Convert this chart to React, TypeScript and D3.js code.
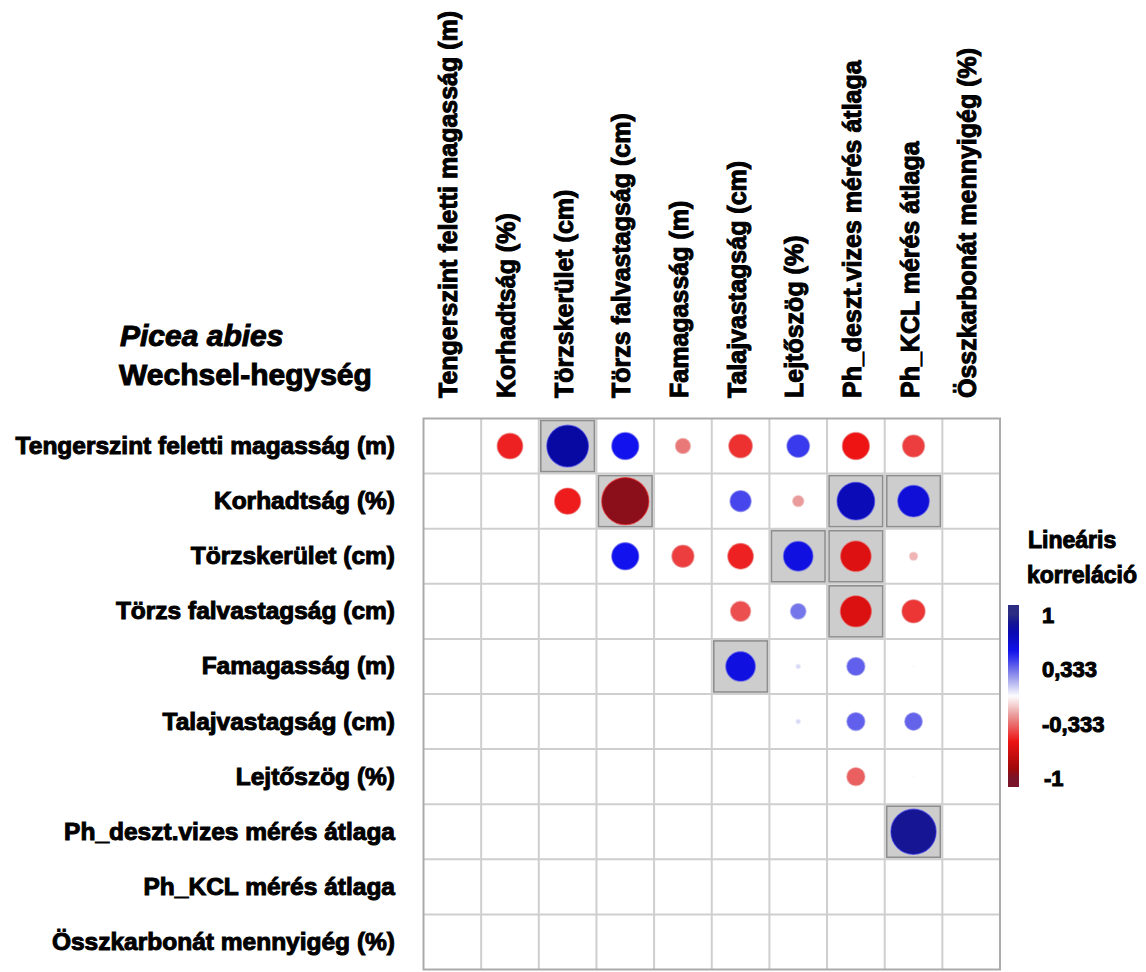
import React from "react";
import * as d3 from "d3";

// Variables of the correlation matrix (same order on both axes)
const variables = [
  "Tengerszint feletti magasság (m)",
  "Korhadtság (%)",
  "Törzskerület (cm)",
  "Törzs falvastagság (cm)",
  "Famagasság (m)",
  "Talajvastagság (cm)",
  "Lejtőszög (%)",
  "Ph_deszt.vizes mérés átlaga",
  "Ph_KCL mérés átlaga",
  "Összkarbonát mennyigég (%)",
];

// Upper-triangle Pearson correlations (null = not shown)
const corrTengerszint = [null, -0.52, 0.84, 0.55, -0.31, -0.48, 0.46, -0.55, -0.45, null];
const corrKorhadtsag = [null, null, -0.53, -0.95, null, 0.43, -0.23, 0.76, 0.64, null];
const corrTorzskerulet = [null, null, null, 0.55, -0.45, -0.52, 0.6, -0.62, -0.17, null];
const corrFalvastagsag = [null, null, null, null, null, -0.41, 0.32, -0.63, -0.47, null];
const corrFamagassag = [null, null, null, null, null, 0.6, 0.09, 0.37, 0.03, null];
const corrTalajvastagsag = [null, null, null, null, null, null, 0.09, 0.37, 0.36, null];
const corrLejtoszog = [null, null, null, null, null, null, null, -0.37, 0.03, null];
const corrPhDeszt = [null, null, null, null, null, null, null, null, 0.91, null];
const corrPhKCL = [null, null, null, null, null, null, null, null, null, null];
const corrOsszkarbonat = [null, null, null, null, null, null, null, null, null, null];

const correlationRows: (number | null)[][] = [
  corrTengerszint,
  corrKorhadtsag,
  corrTorzskerulet,
  corrFalvastagsag,
  corrFamagassag,
  corrTalajvastagsag,
  corrLejtoszog,
  corrPhDeszt,
  corrPhKCL,
  corrOsszkarbonat,
];

// Pairs flagged as significant (grey box behind the circle)
const significantCells: [number, number][] = [
  [0, 2],
  [1, 3],
  [1, 7],
  [1, 8],
  [2, 6],
  [2, 7],
  [3, 7],
  [4, 5],
  [7, 8],
];

// Colour bar tick labels
const legendTicks = [1, 0.333, -0.333, -1];
const legendTickLabels = ["1", "0,333", "-0,333", "-1"];

const W = 1146;
const H = 972;
const FONT = "'Liberation Sans', Arial, Helvetica, sans-serif";

const gridLeft = 423.5;
const gridTop = 418.5;
const cellW = 57.65;
const cellH = 55.1;

export default function App() {
  const idx = d3.range(variables.length);
  const x = d3
    .scaleBand<number>()
    .domain(idx)
    .range([gridLeft, gridLeft + cellW * variables.length])
    .paddingInner(0)
    .paddingOuter(0);
  const y = d3
    .scaleBand<number>()
    .domain(idx)
    .range([gridTop, gridTop + cellH * variables.length]);

  const bw = x.bandwidth();
  const bh = y.bandwidth();

  const color = d3
    .scaleLinear<string>()
    .domain([-1, -0.88, -0.55, -0.25, 0, 0.25, 0.55, 0.85, 1])
    .range([
      "#7a1428",
      "#a00808",
      "#ee1414",
      "#e89292",
      "#ffffff",
      "#9494ea",
      "#1212ee",
      "#0808a0",
      "#2c2c82",
    ])
    .interpolate(d3.interpolateRgb);

  const radius = d3
    .scaleLinear()
    .domain([0, 1])
    .range([0, 0.45 * Math.min(bw, bh)]);

  const cells: { r: number; c: number; v: number }[] = [];
  correlationRows.forEach((row, r) =>
    row.forEach((v, c) => {
      if (v !== null) cells.push({ r, c, v });
    })
  );

  const gridRight = gridLeft + bw * variables.length;
  const gridBottom = gridTop + bh * variables.length;

  // colour bar geometry
  const barX = 1008;
  const barW = 11;
  const barTop = 605;
  const barBottom = 787;
  const legendY = d3.scaleLinear().domain([1, -1]).range([615, 778]);
  const gradStops = d3.range(0, 1.0001, 0.05);

  const textStyle = {
    fontFamily: FONT,
    fontWeight: 700,
    fill: "#000",
    stroke: "#000",
    strokeWidth: 1,
  } as React.CSSProperties;

  return (
    <svg
      width={W}
      height={H}
      viewBox={`0 0 ${W} ${H}`}
      style={{ position: "absolute", left: 0, top: 0, background: "#fff" }}
    >
      <defs>
        <linearGradient id="corrbar" x1="0" y1="0" x2="0" y2="1">
          {gradStops.map((t) => {
            const yy = barTop + t * (barBottom - barTop);
            const v = Math.max(-1, Math.min(1, legendY.invert(yy)));
            return <stop key={t} offset={`${t * 100}%`} stopColor={color(v)} />;
          })}
        </linearGradient>
      </defs>

      {/* title */}
      <text x={120} y={346} fontSize={30} style={{ ...textStyle, fontStyle: "italic" }}>
        Picea abies
      </text>
      <text x={119} y={385} fontSize={30} style={textStyle}>
        Wechsel-hegység
      </text>

      {/* column labels */}
      {idx.map((i) => (
        <text
          key={`col-${i}`}
          transform={`translate(${(x(i) as number) + bw / 2 + 5},${398}) rotate(-90)`}
          fontSize={25}
          style={textStyle}
        >
          {variables[i]}
        </text>
      ))}

      {/* row labels */}
      {idx.map((i) => (
        <text
          key={`row-${i}`}
          x={395}
          y={(y(i) as number) + bh / 2 + 8}
          fontSize={24.5}
          textAnchor="end"
          style={textStyle}
        >
          {variables[i]}
        </text>
      ))}

      {/* grid */}
      {idx.slice(1).map((i) => (
        <line
          key={`v-${i}`}
          x1={x(i)}
          x2={x(i)}
          y1={gridTop}
          y2={gridBottom}
          stroke="#cfcfcf"
          strokeWidth={2}
        />
      ))}
      {idx.slice(1).map((i) => (
        <line
          key={`h-${i}`}
          x1={gridLeft}
          x2={gridRight}
          y1={y(i)}
          y2={y(i)}
          stroke="#cfcfcf"
          strokeWidth={2}
        />
      ))}
      <rect
        x={gridLeft}
        y={gridTop}
        width={gridRight - gridLeft}
        height={gridBottom - gridTop}
        fill="none"
        stroke="#ababab"
        strokeWidth={2}
      />

      {/* significance boxes */}
      {significantCells.map(([r, c]) => (
        <rect
          key={`sig-${r}-${c}`}
          x={(x(c) as number) + 2}
          y={(y(r) as number) + 2}
          width={bw - 4}
          height={bh - 4}
          fill="#cdcdcd"
          stroke="#8e8e8e"
          strokeWidth={1.6}
        />
      ))}

      {/* correlation circles */}
      {cells.map(({ r, c, v }) => (
        <circle
          key={`c-${r}-${c}`}
          cx={(x(c) as number) + bw / 2}
          cy={(y(r) as number) + bh / 2}
          r={radius(Math.abs(v))}
          fill={color(v)}
          stroke={color(v * 0.55)}
          strokeOpacity={0.6}
          strokeWidth={1.2}
        />
      ))}

      {/* colour legend */}
      <text x={1028} y={548} fontSize={23} style={textStyle}>
        Lineáris
      </text>
      <text x={1027} y={583} fontSize={23} style={textStyle}>
        korreláció
      </text>
      <rect x={barX} y={barTop} width={barW} height={barBottom - barTop} fill="url(#corrbar)" />
      {legendTicks.map((t, i) => (
        <text
          key={`lt-${i}`}
          x={t === -1 ? 1044 : 1042}
          y={legendY(t) + 8}
          fontSize={22}
          style={textStyle}
        >
          {legendTickLabels[i]}
        </text>
      ))}
    </svg>
  );
}
